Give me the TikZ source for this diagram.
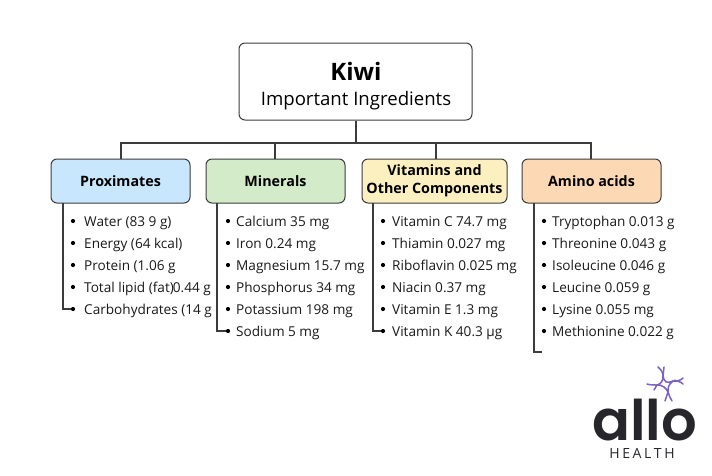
\documentclass[tikz,border=0pt]{standalone}
\usepackage{fontspec}
\setmainfont{Open Sans}
\newfontfamily\logofont{Poppins SemiBold}
\definecolor{linegray}{HTML}{3C3C3C}
\definecolor{inkc}{HTML}{1A1A1A}
\definecolor{logopurple}{HTML}{7B62C4}
\definecolor{logoink}{HTML}{26262B}
\definecolor{fillprox}{HTML}{C8E6FC}
\definecolor{fillmine}{HTML}{D3EBC9}
\definecolor{fillvita}{HTML}{FDF0C0}
\definecolor{fillamin}{HTML}{FCD9B4}
\tikzset{
  x=1pt,y=-1pt,
  wire/.style={draw=linegray,line width=1.1pt},
  rootbox/.style={draw=linegray,line width=1pt,rounded corners=6pt,fill=white,minimum width=233pt,minimum height=77pt,inner sep=0pt},
  roottitle/.style={anchor=base,inner sep=0pt,text=black,font=\fontsize{24}{28}\selectfont\bfseries},
  rootsub/.style={anchor=base,inner sep=0pt,text=black,font=\fontsize{18.6}{22}\selectfont},
  catbox/.style={draw=linegray,line width=1pt,rounded corners=6pt,minimum height=44pt,inner sep=0pt,align=center,text=black,font=\fontsize{14.3}{18}\selectfont\bfseries},
  itemtext/.style={anchor=base west,inner sep=0pt,text=inkc,font=\fontsize{13.6}{15}\selectfont},
  dotb/.style={circle,fill=black,inner sep=0pt,minimum size=4.2pt},
  petal/.style={draw=logopurple,line width=1.5pt,line cap=round},
}
\begin{document}
\begin{tikzpicture}
\useasboundingbox (0,0) rectangle (712,475);
\fill[white] (0,0) rectangle (712,475);
% boxes
\node[rootbox] (root) at (355.5,81.5) {};
\node[roottitle] (kiwi) at (356,80) {Kiwi};
\node[rootsub] (imp) at (356,105) {Important Ingredients};
\node[catbox,fill=fillprox,minimum width=139pt] (prox) at (120.5,181) {Proximates};
\node[catbox,fill=fillmine,minimum width=139pt] (mine) at (275.5,181) {Minerals};
\node[catbox,fill=fillvita,minimum width=145pt] (vita) at (434.5,181) {Vitamins and\\Other Components};
\node[catbox,fill=fillamin,minimum width=139pt] (amin) at (591.5,181) {Amino acids};
% bus
\coordinate (bus) at (356,143);
\draw[wire] (root.south -| bus) -- (bus);
\coordinate (dp) at (121,143);
\coordinate (dm) at (275,143);
\coordinate (dv) at (436,143);
\coordinate (da) at (591,143);
\draw[wire] (prox.north -| dp) -- (dp) -- (da) -- (amin.north -| da);
\draw[wire] (dm) -- (mine.north -| dm);
\draw[wire] (dv) -- (vita.north -| dv);
% proximates
\foreach \n/\yy/\t in {1/221/{Water (83 9 g)},2/243/{Energy (64 kcal)},3/265/{Protein (1.06 g},4/287/{Total lipid (fat)\kern-1pt 0.44 g},5/309/{Carbohydrates (14 g}}{
  \node[dotb] (pb\n) at (73,\yy) {};
  \node[itemtext] (pt\n) at (84,\yy+5) {\t};
}
% minerals
\foreach \n/\yy/\t in {1/221/{Calcium 35 mg},2/243/{Iron 0.24 mg},3/265/{Magnesium 15.7 mg},4/287/{Phosphorus 34 mg},5/309/{Potassium 198 mg},6/331/{Sodium 5 mg}}{
  \node[dotb] (mb\n) at (228,\yy) {};
  \node[itemtext] (mt\n) at (236,\yy+5) {\t};
}
% vitamins
\foreach \n/\yy/\t in {1/221/{Vitamin C 74.7 mg},2/243/{Thiamin 0.027 mg},3/265/{Riboflavin 0.025 mg},4/287/{Niacin 0.37 mg},5/309/{Vitamin E 1.3 mg},6/331/{Vitamin K 40.3 µg}}{
  \node[dotb] (vb\n) at (383,\yy) {};
  \node[itemtext] (vt\n) at (392,\yy+5) {\t};
}
% amino acids
\foreach \n/\yy/\t in {1/221/{Tryptophan 0.013 g},2/243/{Threonine 0.043 g},3/265/{Isoleucine 0.046 g},4/287/{Leucine 0.059 g},5/309/{Lysine 0.055 mg},6/331/{Methionine 0.022 g}}{
  \node[dotb] (ab\n) at (544,\yy) {};
  \node[itemtext] (at\n) at (552,\yy+5) {\t};
}
% trunks
\coordinate (tp) at (63,203);
\coordinate (tm) at (217,203);
\coordinate (tv) at (373,203);
\coordinate (ta) at (534,203);
\coordinate (aend) at (542,352);
\draw[wire] (tp) |- (pb5);
\draw[wire] (tm) |- (mb6);
\draw[wire] (tv) |- (vb6);
\draw[wire] (ta) |- (aend);
% logo
\draw[petal] (663,376) .. controls (664,382) and (667,384) .. (673,381)
             .. controls (668,385) and (668,388) .. (668,392)
             .. controls (666,388) and (663,385) .. (657,385)
             .. controls (661,384) and (663,381) .. (663,376) -- cycle;
\draw[petal] (658,367) .. controls (661,370) and (663,372) .. (663,376);
\draw[petal] (664,367) -- (663,376);
\draw[petal] (683,378) .. controls (680,381) and (677,381) .. (673,381);
\draw[petal] (683,384) .. controls (680,381) and (677,381) .. (673,381);
\draw[petal] (665,401) .. controls (666,398) and (667,395) .. (668,392);
\draw[petal] (672,401) .. controls (670,398) and (669,395) .. (668,392);
\draw[petal] (647,384) .. controls (650,385) and (654,385) .. (657,385);
\draw[petal] (654,390) .. controls (655,388) and (656,387) .. (657,385);
\node[anchor=base,inner sep=0pt,text height=30pt,text depth=0pt,text=logoink,font=\fontsize{56}{56}\logofont] (allo) at (644.5,440) {allo};
\node[anchor=base,inner sep=0pt,text height=10pt,text depth=0pt,text=logoink,font=\fontsize{14}{15}\selectfont] (health) at (642,458) {H\kern2.6pt E\kern2.6pt A\kern2.6pt L\kern2.6pt T\kern2.6pt H};
\end{tikzpicture}
\end{document}
